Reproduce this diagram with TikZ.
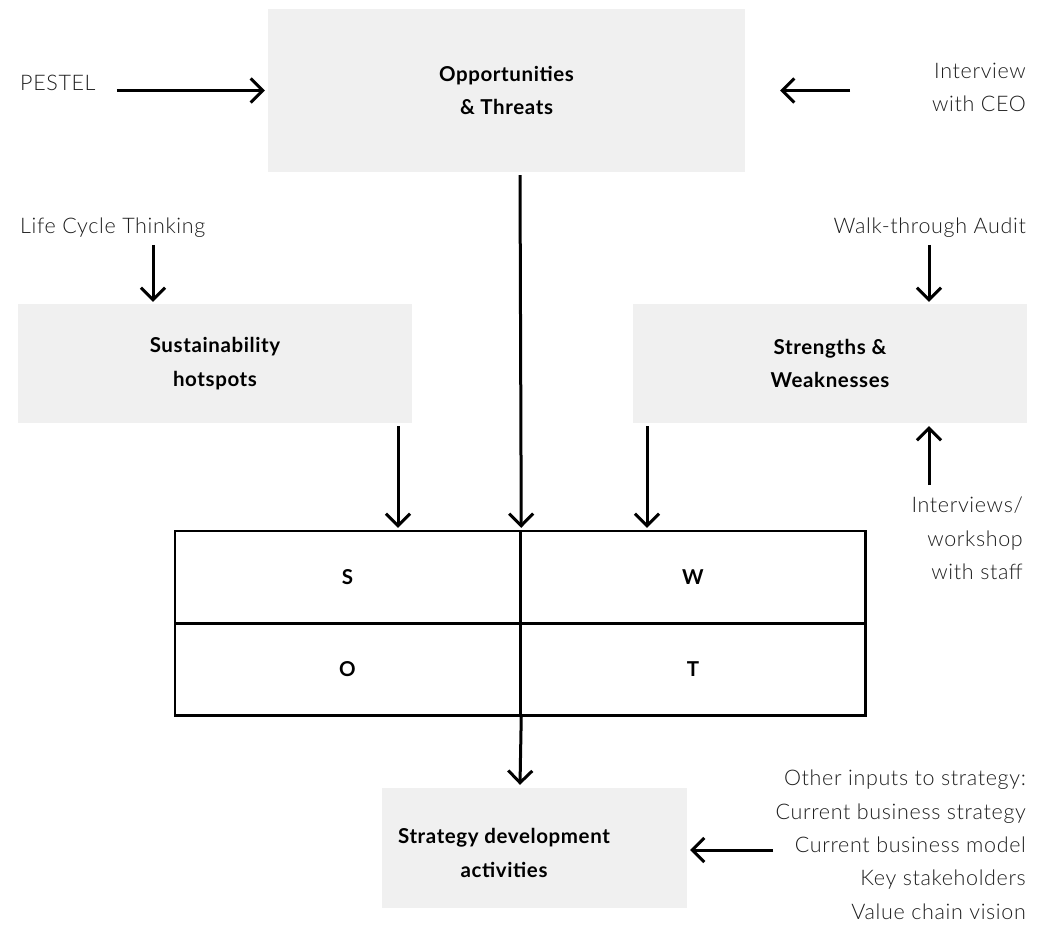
\documentclass[tikz,border=0pt]{standalone}
\usepackage{fontspec}
\setmainfont{Lato}[LetterSpace=3]
\newfontfamily\lightfont{Lato Light}[LetterSpace=3]
\usetikzlibrary{arrows.meta, positioning, calc}
\definecolor{boxgray}{HTML}{F0F0F0}
\definecolor{inktext}{HTML}{1E1E1E}

\begin{document}
\begin{tikzpicture}[x=1pt, y=-1pt,
    font=\lightfont\fontsize{21.5}{33.3}\selectfont, text=inktext,
    box/.style={fill=boxgray, inner sep=0pt, align=center,
      font=\fontsize{20.5}{33.3}\selectfont\bfseries, text=black},
    cell/.style={draw, line width=2.5pt, minimum width=345pt, minimum height=92pt,
      font=\fontsize{20.5}{21}\selectfont\bfseries, text=black},
    arr/.style={-{Straight Barb[length=12pt,width=24pt]}, line width=3pt},
    note/.style={inner sep=0pt}]
   \useasboundingbox (0,0) rectangle (1041,927);
   % grey boxes
   \node[box, minimum width=477pt, minimum height=163pt] (ot) at (506.5,90.5) {Opportunities\\\& Threats};
   \node[box, minimum width=394pt, minimum height=119pt] (hot) at (215,363.5) {Sustainability\\hotspots};
   \node[box, minimum width=394pt, minimum height=119pt] (sw) at (830,363.5) {Strengths \&\\Weaknesses};
   \node[box, minimum width=305pt, minimum height=120pt] (strat) at (534.5,848) {};
   \node[box, fill=none] (stratlbl) at (504,853) {Strategy development\\activities};
   % SWOT table
   \node[cell] (s) at (347.5,577) {S};
   \node[cell] (w) at (693,577) {W};
   \node[cell] (o) at (347.5,669.5) {O};
   \node[cell] (t) at (693,669.5) {T};
   % inputs
   \node[note, anchor=base west] (pestel) at (20,90) {PESTEL};
   \node[note, anchor=north east, align=right] (ceo) at (1026,63) {Interview\\with CEO};
   \node[note, anchor=base west] (lct) at (20,233) {Life Cycle Thinking};
   \node[note, anchor=base east] (audit) at (1026,233) {Walk-through Audit};
   \node[note, anchor=north east, align=right] (staff) at (1023,497) {Interviews/\\workshop\\with staff};
   \node[note, anchor=north east, align=right] (other) at (1026,770) {Other inputs to strategy:\\Current business strategy\\Current business model\\Key stakeholders\\Value chain vision};
   % arrows
   \draw[arr] ([xshift=-151pt]ot.west) -- ([xshift=-3pt]ot.west);
   \draw[arr] ([xshift=105pt]ot.east) -- ([xshift=35pt]ot.east);
   \draw[arr] ($(hot.north)+(-62,-59)$) -- ($(hot.north)+(-62,-2)$);
   \draw[arr] ($(sw.north)+(99,-59)$) -- ($(sw.north)+(99,-2)$);
   \draw[arr] ($(sw.south)+(99,62)$) -- ($(sw.south)+(99,3)$);
   \draw[arr] ($(ot.south)+(13.5,3)$) -- ($(s.north east)+(0,-2)$);
   \draw[arr] ($(hot.south)+(183,3)$) -- ($(s.north)+(50.5,-2)$);
   \draw[arr] ($(sw.south)+(-183,3)$) -- ($(w.north)+(-46,-2)$);
   \draw[arr] (o.south east) -- ($(strat.north)+(-14.5,-3)$);
   \draw[arr] ([xshift=86pt,yshift=-2pt]strat.east) -- ([xshift=3pt,yshift=-2pt]strat.east);
\end{tikzpicture}
\end{document}
